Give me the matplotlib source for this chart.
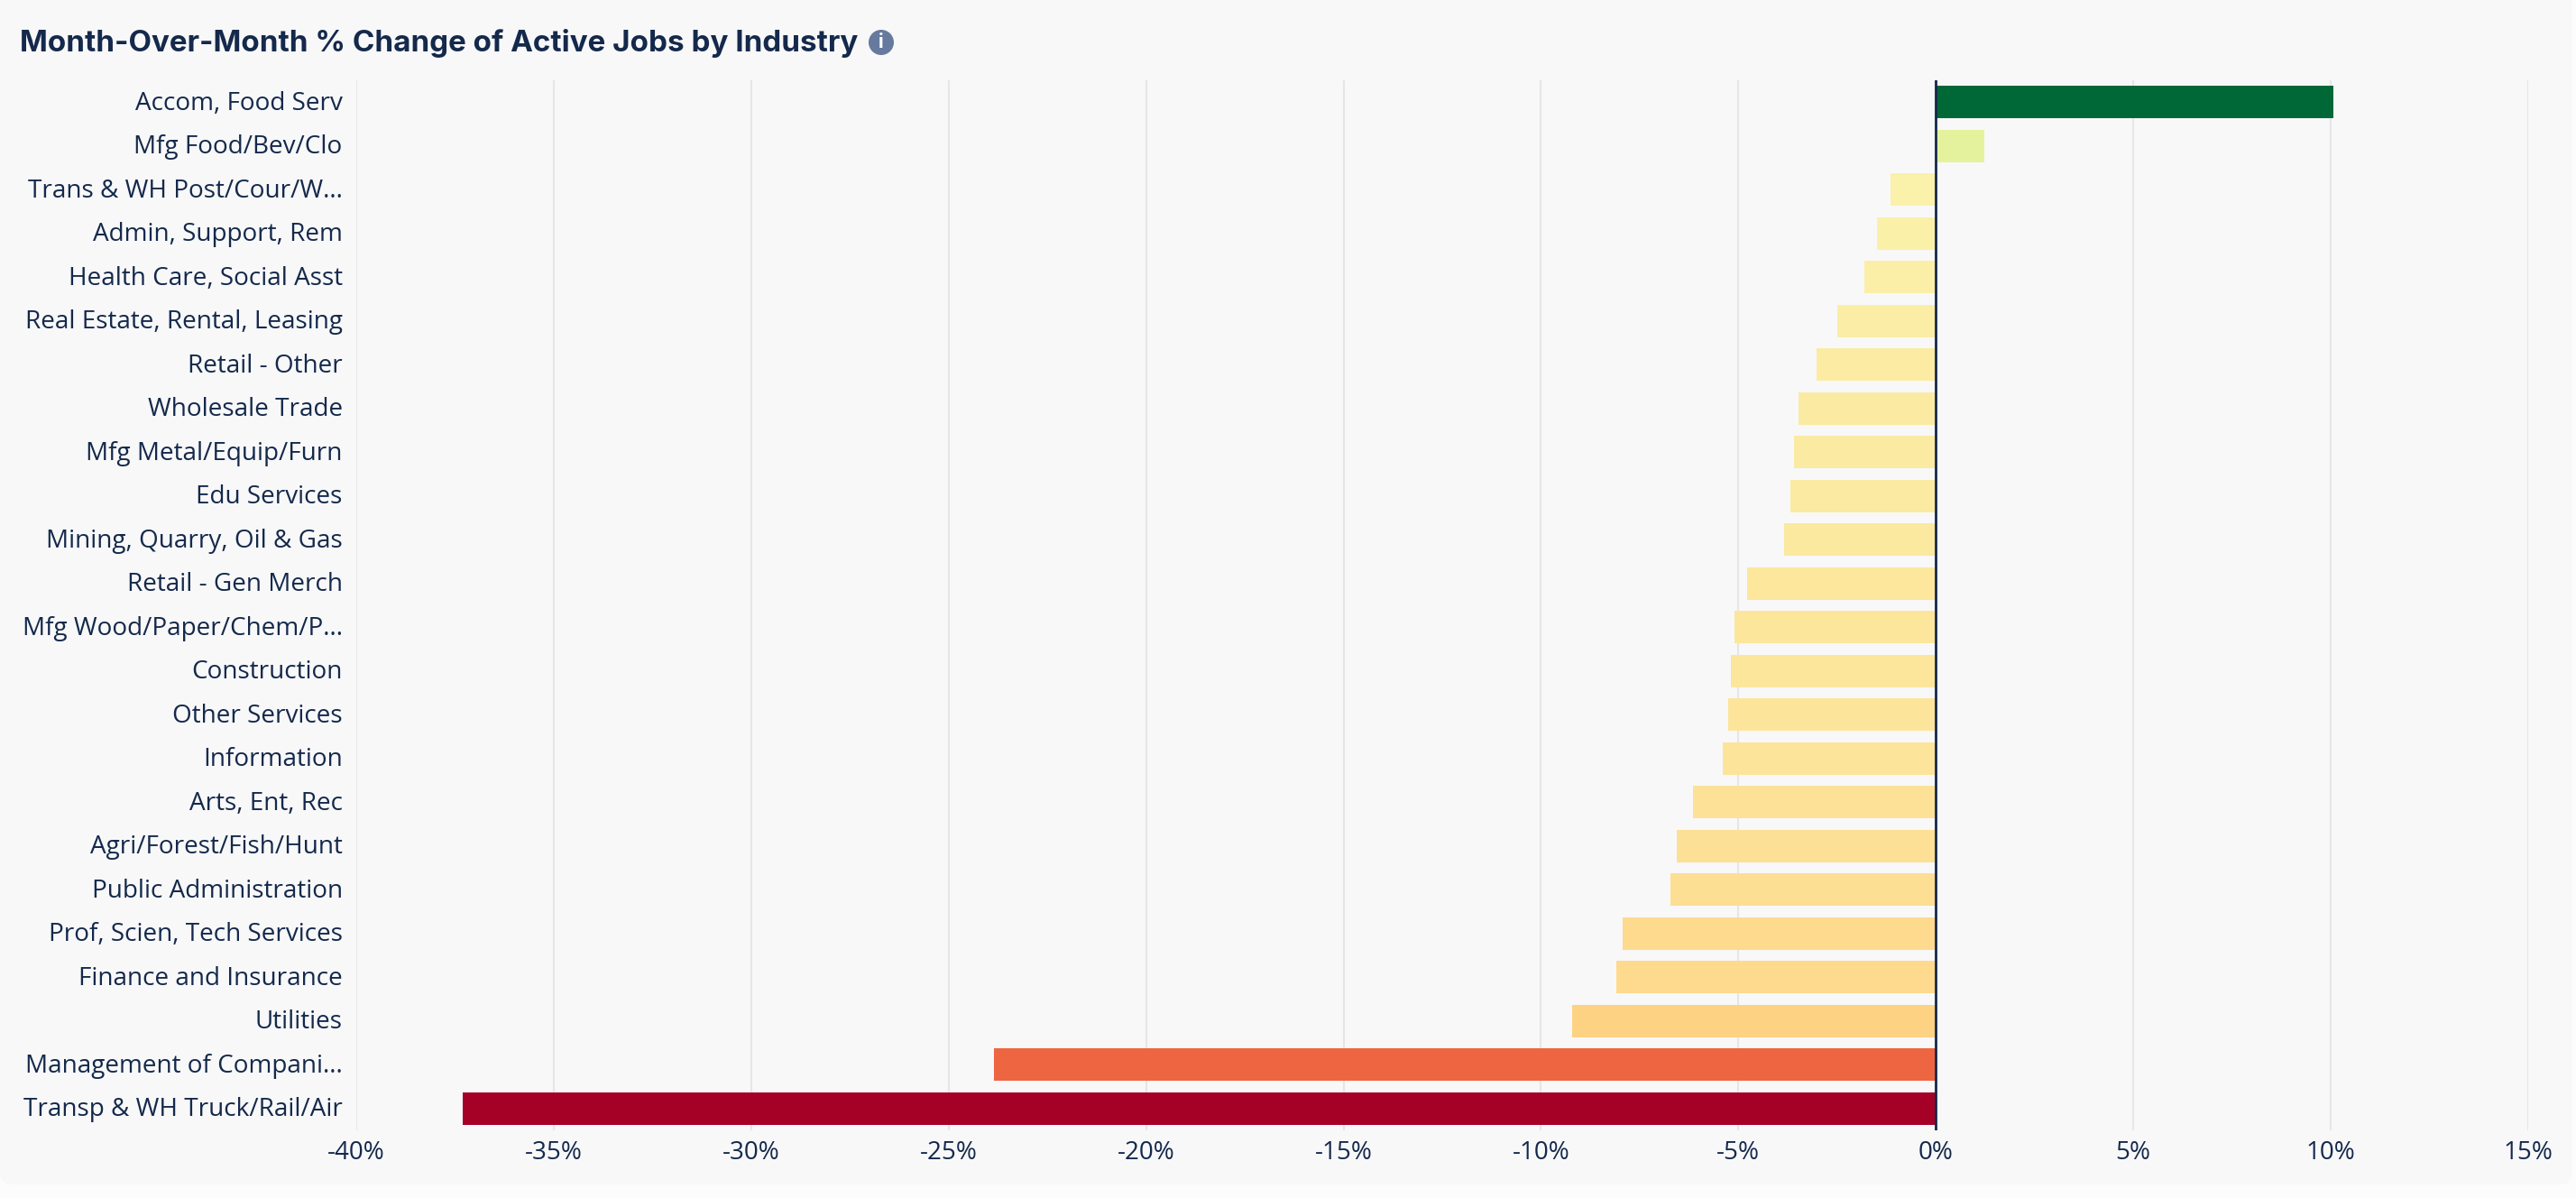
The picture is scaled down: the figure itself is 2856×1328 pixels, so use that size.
import matplotlib
matplotlib.use('Agg')
import matplotlib.pyplot as plt
from matplotlib.colors import LinearSegmentedColormap, TwoSlopeNorm
from matplotlib.patches import FancyBboxPatch, Circle
from matplotlib.transforms import ScaledTranslation

# Industries, top to bottom
industries = [
    'Accom, Food Serv', 'Mfg Food/Bev/Clo', 'Trans & WH Post/Cour/W...',
    'Admin, Support, Rem', 'Health Care, Social Asst', 'Real Estate, Rental, Leasing',
    'Retail - Other', 'Wholesale Trade', 'Mfg Metal/Equip/Furn', 'Edu Services',
    'Mining, Quarry, Oil & Gas', 'Retail - Gen Merch', 'Mfg Wood/Paper/Chem/P...',
    'Construction', 'Other Services', 'Information', 'Arts, Ent, Rec',
    'Agri/Forest/Fish/Hunt', 'Public Administration', 'Prof, Scien, Tech Services',
    'Finance and Insurance', 'Utilities', 'Management of Compani...',
    'Transp & WH Truck/Rail/Air',
]
pct_change = [
    10.07, 1.22, -1.14, -1.48, -1.80, -2.49, -3.02, -3.48, -3.60, -3.69, -3.85, -4.79,
    -5.10, -5.18, -5.27, -5.39, -6.14, -6.56, -6.72, -7.93, -8.10, -9.22, -23.85, -37.30,
]
x_ticks = [-40, -35, -30, -25, -20, -15, -10, -5, 0, 5, 10, 15]

W, H = 2856, 1328
NAVY = '#14294b'
GRID = '#e6e6e6'

fig = plt.figure(figsize=(W / 100, H / 100), dpi=100, facecolor='#fcfcfc')

# Background layer in pixel coordinates
bg = fig.add_axes([0, 0, 1, 1])
bg.set_xlim(0, W)
bg.set_ylim(H, 0)
bg.axis('off')
bg.add_patch(FancyBboxPatch((0, -40), 2852, 1353, boxstyle='round,pad=0,rounding_size=14',
                            fc='#f8f8f9', ec='none'))
bg.text(22, 48, 'Month-Over-Month % Change of Active Jobs by Industry', family='Inter',
        weight='bold', fontsize=23.9, color=NAVY, va='center', ha='left')
bg.add_patch(Circle((977, 47), 14, fc='#667a9e', ec='none'))
bg.text(977, 47, 'i', family='Inter', weight='bold', fontsize=15, color='white',
        ha='center', va='center')

# Chart
left, right, top, bottom = 395, 2803, 89, 1253
ax = fig.add_axes([left / W, 1 - bottom / H, (right - left) / W, (bottom - top) / H])
ax.patch.set_alpha(0)

# Red-yellow-green ramp, anchors picked off the bars
cmap = LinearSegmentedColormap.from_list('jobs', [
    (0.0, '#a50026'), (0.18, '#ee6641'), (0.376, '#fdd283'), (0.394, '#fddb8f'),
    (0.428, '#fce59b'), (0.5, '#faf4ad'), (0.56, '#e4f29d'), (1.0, '#006837'),
])
norm = TwoSlopeNorm(vmin=min(pct_change), vcenter=0, vmax=max(pct_change))
y_pos = list(range(len(industries)))
ax.barh(y_pos, pct_change, height=0.74, color=[cmap(norm(v)) for v in pct_change], zorder=2)

ax.set_xlim(-40, 15)
ax.set_ylim(len(industries) - 0.5, -0.5)
ax.set_xticks(x_ticks)
ax.set_xticklabels([f'{t}%' for t in x_ticks])
ax.set_yticks(y_pos)
ax.set_yticklabels(industries)
ax.tick_params(axis='both', length=0, labelsize=20.1, labelcolor=NAVY)
ax.tick_params(axis='y', pad=11)
ax.tick_params(axis='x', pad=8)
# Category labels sit a little above the bar centres
nudge = ScaledTranslation(0, 2 / 100, fig.dpi_scale_trans)
for lbl in ax.get_yticklabels():
    lbl.set_family('Open Sans')
    lbl.set_transform(lbl.get_transform() + nudge)
for lbl in ax.get_xticklabels():
    lbl.set_family('Open Sans')

ax.grid(axis='x', color=GRID, linewidth=1.5, zorder=1)
ax.axvline(0, color=NAVY, linewidth=2, zorder=3)
for s in ax.spines.values():
    s.set_visible(False)

fig.savefig('out.png', dpi=100, facecolor=fig.get_facecolor())
